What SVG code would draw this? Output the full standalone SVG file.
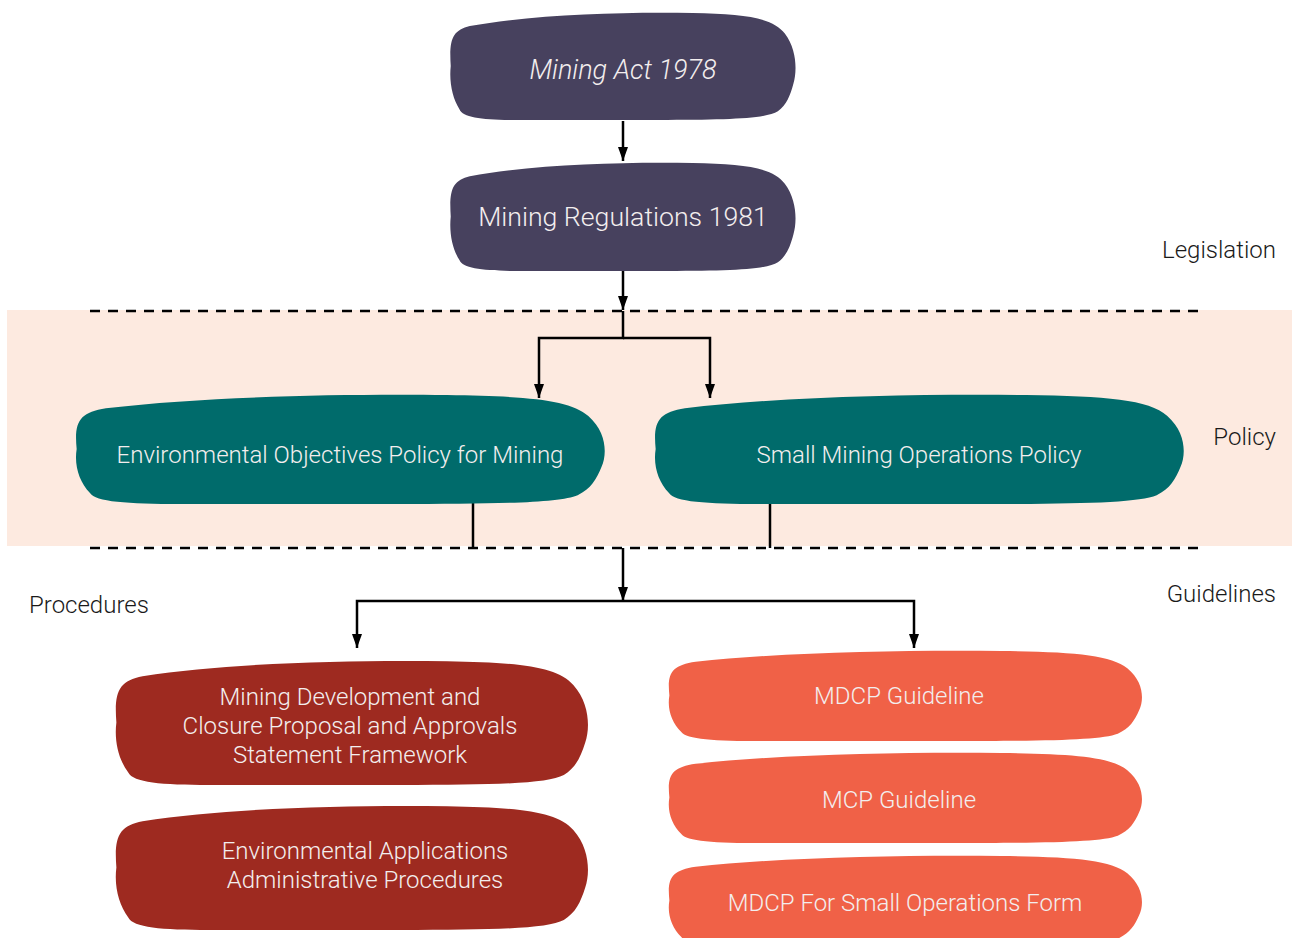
<svg xmlns="http://www.w3.org/2000/svg" xmlns:xlink="http://www.w3.org/1999/xlink" width="1295" height="938" viewBox="0 0 1295 938">
<style>
.t{font-family:Roboto,"Liberation Sans",sans-serif;font-weight:300;fill:#f3eeee;text-anchor:middle;}
.lb{font-family:Roboto,"Liberation Sans",sans-serif;font-weight:300;fill:#1a1a1a;font-size:24px;}
.c{fill:none;stroke:#000;stroke-width:2.5;}
.d{fill:none;stroke:#000;stroke-width:2.5;stroke-dasharray:10 8;}
.purple{fill:#47415e;}
.teal{fill:#006b6b;}
.red{fill:#9e2a20;}
.orange{fill:#f06147;}
</style>
<defs>
<path id="blob" d="M0.5 50 C0 25 1 17 6 13 C25 2 50 0 70 1 C85 2 93 5 96.5 20 C100 35 100 55 99 66 C98 78 97 86 94.5 92 C91 99 80 100 60 100 L20 100 C10 100 4 98 3 90 C1 80 0 65 0.5 50 Z"/>
<marker id="arr" viewBox="0 0 14 10" refX="14" refY="5" markerWidth="14" markerHeight="10" markerUnits="userSpaceOnUse" orient="auto">
<path d="M0 0 L14 5 L0 10 Z" fill="#000"/>
</marker>
</defs>
<rect x="7" y="310" width="1285" height="236" fill="#fdeae0"/>
<g id="bands">
<line class="d" x1="90" y1="311" x2="1200" y2="311"/>
<line class="d" x1="90" y1="548" x2="1200" y2="548"/>
</g>
<g id="connectors">
<path class="c" d="M623 121 V161" marker-end="url(#arr)"/>
<path class="c" d="M623 271 V310" marker-end="url(#arr)"/>
<path class="c" d="M623 311 V338 H539 V398" marker-end="url(#arr)"/>
<path class="c" d="M623 338 H710 V398" marker-end="url(#arr)"/>
<path class="c" d="M473 503 V548"/>
<path class="c" d="M770 503 V548"/>
<path class="c" d="M623 548 V601" marker-end="url(#arr)"/>
<path class="c" d="M623 601 H357 V648" marker-end="url(#arr)"/>
<path class="c" d="M623 601 H914 V648" marker-end="url(#arr)"/>
</g>
<g id="n-act">
<use href="#blob" class="purple" transform="translate(449 12) scale(3.48 1.08)"/>
<text class="t" x="623" y="79" font-size="27" font-style="italic">Mining Act 1978</text>
</g>
<g id="n-regs">
<use href="#blob" class="purple" transform="translate(449 162) scale(3.48 1.09)"/>
<text class="t" x="623" y="226" font-size="26.7">Mining Regulations 1981</text>
</g>
<g id="n-envobj">
<use href="#blob" class="teal" transform="translate(74 394) scale(5.33 1.1)"/>
<text class="t" x="340" y="463" font-size="24">Environmental Objectives Policy for Mining</text>
</g>
<g id="n-small">
<use href="#blob" class="teal" transform="translate(653 394) scale(5.33 1.1)"/>
<text class="t" x="919" y="463" font-size="24">Small Mining Operations Policy</text>
</g>
<g id="n-mdcp-framework">
<use href="#blob" class="red" transform="translate(114 660) scale(4.76 1.25)"/>
<text class="t" font-size="24"><tspan x="350" y="705">Mining Development and</tspan><tspan x="350" y="734">Closure Proposal and Approvals</tspan><tspan x="350" y="763">Statement Framework</tspan></text>
</g>
<g id="n-eaap">
<use href="#blob" class="red" transform="translate(114 805) scale(4.76 1.25)"/>
<text class="t" font-size="24"><tspan x="365" y="859">Environmental Applications</tspan><tspan x="365" y="888">Administrative Procedures</tspan></text>
</g>
<g id="n-mdcp">
<use href="#blob" class="orange" transform="translate(667 650) scale(4.77 0.91)"/>
<text class="t" x="899" y="704" font-size="24">MDCP Guideline</text>
</g>
<g id="n-mcp">
<use href="#blob" class="orange" transform="translate(667 752) scale(4.77 0.91)"/>
<text class="t" x="899" y="808" font-size="24">MCP Guideline</text>
</g>
<g id="n-mdcp-small">
<use href="#blob" class="orange" transform="translate(667 855) scale(4.77 0.91)"/>
<text class="t" x="905" y="911" font-size="24">MDCP For Small Operations Form</text>
</g>
<g id="labels">
<text class="lb" x="1276" y="258" text-anchor="end">Legislation</text>
<text class="lb" x="1276" y="445" text-anchor="end">Policy</text>
<text class="lb" x="1276" y="602" text-anchor="end">Guidelines</text>
<text class="lb" x="29" y="613">Procedures</text>
</g>
</svg>
